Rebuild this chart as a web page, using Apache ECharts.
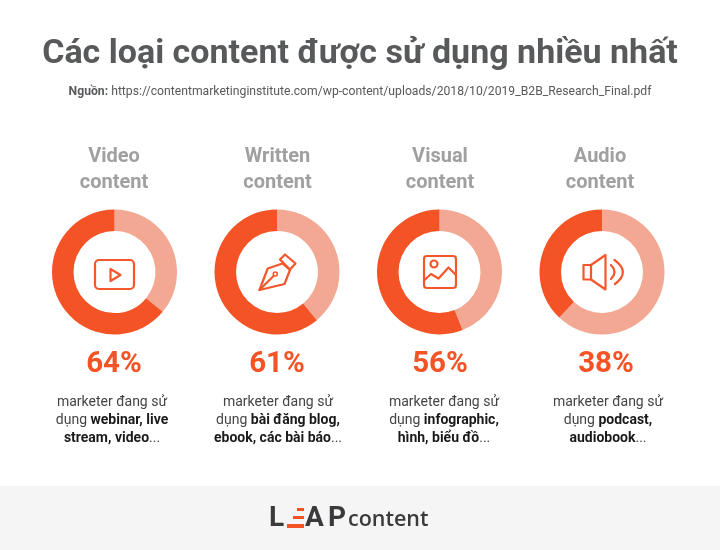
<!DOCTYPE html>
<html>
<head>
<meta charset="utf-8">
<style>html,body{margin:0;padding:0;background:#fff}#main{width:720px;height:550px}</style>
<script src="https://cdn.jsdelivr.net/npm/echarts@6/dist/echarts.min.js"></script>
</head>
<body>
<div id="main"></div>
<script>
var chartTitle = 'Các loại content được sử dụng nhiều nhất'
var sourceUrl = 'https://contentmarketinginstitute.com/wp-content/uploads/2018/10/2019_B2B_Research_Final.pdf'
var categories = ['Video\ncontent', 'Written\ncontent', 'Visual\ncontent', 'Audio\ncontent']
var percents = [64, 61, 56, 38]
var descriptions = [
    'marketer đang sử\ndụng {b|webinar, live}\n{b|stream, video}...',
    'marketer đang sử\ndụng {b|bài đăng blog,}\n{b|ebook, các bài báo}...',
    'marketer đang sử\ndụng {b|infographic,}\n{b|hình, biểu đồ}...',
    'marketer đang sử\ndụng {b|podcast,}\n{b|audiobook}...'
]
var centersX = [114.5, 277, 439.5, 602]
// 文字列与圆环并不完全对齐
var categoryX = [114, 277.5, 440, 600]
var percentX = [114, 277, 440, 606]
var descX = [112, 278, 444, 608]

var FONT = 'Roboto, sans-serif'
var ORANGE = '#f45325'
var LIGHT = '#f2a893'
var ICON = '#f4572b'

var iconStyle = {fill: 'none', stroke: ICON, lineWidth: 2.2, lineJoin: 'round', lineCap: 'round'}

function poly(points) {
    return {type: 'polyline', shape: {points: points}, style: iconStyle}
}
function curve(x1, y1, cx, cy, x2, y2) {
    return {type: 'bezierCurve', shape: {x1: x1, y1: y1, cpx1: cx, cpy1: cy, x2: x2, y2: y2}, style: iconStyle}
}

// 图标，页面坐标
var icons = [
    // video
    [
        {type: 'rect', shape: {x: 95, y: 260, width: 39, height: 29, r: 4}, style: iconStyle},
        poly([[110.5, 269], [120.5, 275], [110.5, 281], [110.5, 269]])
    ],
    // pen
    [
        poly([[259.5, 290], [267.7, 268.5], [282.5, 263.5], [290, 270], [284.5, 284], [259.5, 290]]),
        poly([[280, 259.5], [285, 254.5], [295.5, 263.5], [290, 269.5], [280, 259.5]]),
        poly([[259.5, 290], [273.5, 276]]),
        {type: 'circle', shape: {cx: 275.3, cy: 274, r: 2}, style: {fill: '#fff', stroke: ICON, lineWidth: 1.6}}
    ],
    // image
    [
        {type: 'rect', shape: {x: 424, y: 256, width: 32, height: 32, r: 3}, style: iconStyle},
        poly([[424.5, 280], [431, 274], [438.5, 278.5], [448.5, 267.5], [456, 275]]),
        {type: 'circle', shape: {cx: 434, cy: 264, r: 3.5}, style: iconStyle}
    ],
    // audio
    [
        poly([[583.5, 265], [591, 265], [605.5, 255], [605.5, 289.5], [591, 279.5], [583.5, 279.5], [583.5, 265]]),
        poly([[591, 265], [591, 279.5]]),
        curve(611, 265, 618, 272, 611, 279),
        curve(614.5, 260, 631, 272, 615, 284)
    ]
]

var series = percents.map(function (p, i) {
    return {
        type: 'pie',
        silent: true,
        animation: false,
        center: [centersX[i], 272],
        radius: [41, 62.5],
        startAngle: 90,
        label: {show: false},
        labelLine: {show: false},
        emphasis: {disabled: true},
        data: [
            {value: 100 - p, itemStyle: {color: LIGHT}},
            {value: p, itemStyle: {color: ORANGE}}
        ]
    }
})

var graphics = [
    {type: 'rect', z: 0, shape: {x: 0, y: 486, width: 720, height: 64}, style: {fill: '#f5f5f5'}},
    {type: 'text', style: {x: 360, y: 54, text: chartTitle, align: 'center', verticalAlign: 'middle',
        font: 'bold 34px ' + FONT, fill: '#58595b'}},
    {type: 'text', style: {x: 360, y: 92, align: 'center', verticalAlign: 'middle',
        text: '{b|Nguồn:} ' + sourceUrl, font: '12.2px ' + FONT, fill: '#58595b',
        rich: {b: {font: 'bold 12.2px ' + FONT, fill: '#58595b'}}}}
]

categories.forEach(function (c, i) {
    graphics.push({type: 'text', style: {x: categoryX[i], y: 170, text: c, align: 'center', verticalAlign: 'middle',
        font: 'bold 20px ' + FONT, lineHeight: 26, fill: '#a0a0a0'}})
    graphics.push({type: 'text', style: {x: percentX[i], y: 365, text: percents[i] + '%', align: 'center', verticalAlign: 'middle',
        font: 'bold 29.5px ' + FONT, fill: ORANGE}})
    graphics.push({type: 'text', style: {x: descX[i], y: 420, text: descriptions[i], align: 'center', verticalAlign: 'middle',
        font: '14px ' + FONT, lineHeight: 18, fill: '#444444',
        rich: {b: {font: 'bold 14px ' + FONT, lineHeight: 18, fill: '#1a1a1a'}}}})
    icons[i].forEach(function (el) { graphics.push(el) })
})

// logo
var logoFont = 'bold 28px ' + FONT
graphics.push(
    {type: 'text', style: {x: 269, y: 519, text: 'L', align: 'left', verticalAlign: 'middle', font: logoFont, fill: '#3a3a3c'}},
    {type: 'rect', shape: {x: 297, y: 508, width: 7, height: 3}, style: {fill: ORANGE}},
    {type: 'rect', shape: {x: 293, y: 516, width: 11, height: 3}, style: {fill: ORANGE}},
    {type: 'rect', shape: {x: 287, y: 524, width: 17, height: 4}, style: {fill: ORANGE}},
    {type: 'text', style: {x: 305, y: 519, text: 'A', align: 'left', verticalAlign: 'middle', font: logoFont, fill: '#3a3a3c'}},
    {type: 'text', style: {x: 328, y: 519, text: 'P', align: 'left', verticalAlign: 'middle', font: logoFont, fill: '#3a3a3c'}},
    {type: 'text', style: {x: 348, y: 520, text: 'content', align: 'left', verticalAlign: 'middle', font: '600 21.5px "Open Sans", sans-serif', fill: '#3a3a3c'}}
)

var myChart = echarts.init(document.getElementById('main'))
myChart.setOption({
    backgroundColor: '#fff',
    animation: false,
    series: series,
    graphic: {elements: graphics}
})
</script>
</body>
</html>
